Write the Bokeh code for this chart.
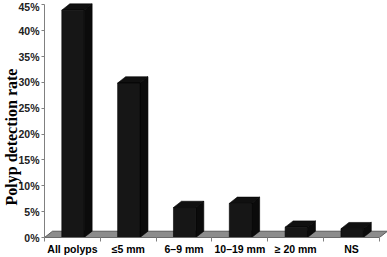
from bokeh.plotting import figure
from bokeh.models import FixedTicker, PrintfTickFormatter
from bokeh.embed import file_html
from bokeh.resources import INLINE

categories = ["All polyps", "\u22645 mm", "6\u20139 mm", "10\u201319 mm", "\u2265 20 mm", "NS"]
rates = [44.0, 29.9, 5.8, 6.6, 2.0, 1.7]
y_ticks = [0, 5, 10, 15, 20, 25, 30, 35, 40, 45]
y_title = "Polyp detection rate"

# layout (pixels)
W, H = 387, 257
LEFT, BOTTOM, TOP, RIGHT = 44, 19, 0, 0
frame_w = W - LEFT - RIGHT
frame_h = H - TOP - BOTTOM
cat_px = 55.83
pct_px = 5.189
x_end = frame_w / cat_px
y_end = frame_h / pct_px
dx = 8.0 / cat_px
dy = 6.3 / pct_px
n = len(categories)

p = figure(width=W, height=H, x_range=(0, x_end), y_range=(0, y_end),
           output_backend="svg", toolbar_location=None,
           min_border_left=LEFT, min_border_right=RIGHT,
           min_border_top=TOP, min_border_bottom=BOTTOM)
p.title.visible = False
p.outline_line_color = None
p.xgrid.visible = False
p.ygrid.visible = False
p.background_fill_color = "white"
p.border_fill_color = "white"

# floor
p.patch([0, n, n + dx, dx], [0, 0, dy, dy], fill_color="#8c8c8c",
        line_color="#5a5a5a", line_width=1)

# bars
fronts_l, fronts_r = [], []
tops_x, tops_y, sides_x, sides_y = [], [], [], []
for i, v in enumerate(rates):
    L = i + 0.31
    R = i + 0.71
    fronts_l.append(L)
    fronts_r.append(R)
    tops_x.append([L, R, R + dx, L + dx])
    tops_y.append([v, v, v + dy, v + dy])
    sides_x.append([R, R + dx, R + dx, R])
    sides_y.append([0, dy, v + dy, v])

p.patches(sides_x, sides_y, fill_color="#0b0b0b", line_color="#000000", line_width=0.6)
p.patches(tops_x, tops_y, fill_color="#101010", line_color="#000000", line_width=0.6)
p.quad(left=fronts_l, right=fronts_r, bottom=0, top=rates,
       fill_color="#161616", line_color="#000000", line_width=0.6)

# x axis
xa = p.xaxis[0]
xa.ticker = FixedTicker(ticks=[i + 0.5 for i in range(n)],
                        minor_ticks=list(range(n + 1)))
xa.major_label_overrides = {i + 0.5: c for i, c in enumerate(categories)}
xa.major_tick_out = 0
xa.major_tick_in = 0
xa.minor_tick_out = 4
xa.minor_tick_in = 0
xa.minor_tick_line_color = "#808080"
xa.axis_line_color = "#6a6a6a"
xa.bounds = (0, n)
xa.major_label_standoff = 1
xa.major_label_text_font = "Liberation Sans"
xa.major_label_text_font_style = "bold"
xa.major_label_text_font_size = "10.5px"
xa.major_label_text_color = "black"

# y axis
ya = p.yaxis[0]
ya.ticker = FixedTicker(ticks=y_ticks)
ya.formatter = PrintfTickFormatter(format="%d%%")
ya.bounds = (0, 45)
ya.axis_line_color = "#808080"
ya.major_tick_line_color = "#808080"
ya.major_tick_out = 3
ya.major_tick_in = 0
ya.minor_tick_line_color = None
ya.major_label_standoff = 2
ya.major_label_text_font = "Liberation Sans"
ya.major_label_text_font_style = "bold"
ya.major_label_text_font_size = "10.5px"
ya.major_label_text_color = "#222222"
# trailing no-break spaces move the visible title lower along the axis
ya.axis_label = y_title + "\u00a0" * 9
ya.axis_label_text_font = "Liberation Serif"
ya.axis_label_text_font_style = "bold"
ya.axis_label_text_font_size = "16px"
ya.axis_label_text_color = "black"
ya.axis_label_standoff = -5

open("out.html", "w").write(file_html(p, INLINE))
